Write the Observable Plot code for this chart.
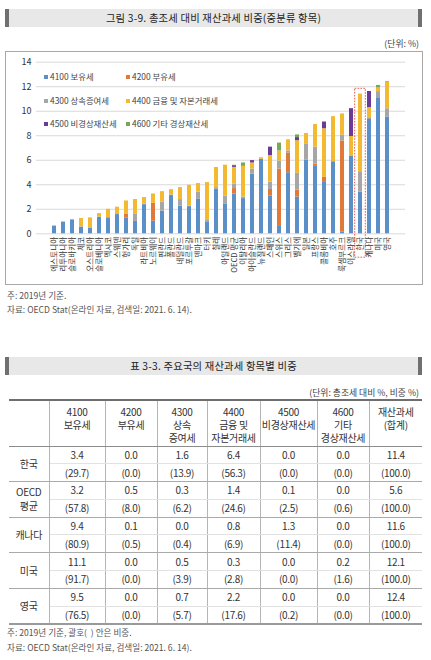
<!DOCTYPE html>
<html>
<head>
<meta charset="utf-8">
<script src="https://cdn.jsdelivr.net/npm/d3@7"></script>
<script src="https://cdn.jsdelivr.net/npm/@observablehq/plot@0.6"></script>
<style>
  body { margin: 0; background: #fff; font-family: "Noto Sans CJK KR", "Noto Sans", sans-serif; color: #333; }
  #page { position: relative; width: 431px; height: 660px; overflow: hidden; }
  .titlebox {
    position: absolute; left: 5px; width: 417px; height: 18px; box-sizing: border-box;
    background: #e8e8e8; border-left: 4px solid #707070; border-right: 4px solid #707070;
    text-align: center; font-size: 10.3px; line-height: 18px; color: #222; letter-spacing: 0.2px;
  }
  .unit { position: absolute; right: 12px; font-size: 8.8px; color: #444; }
  .note { position: absolute; left: 7px; font-size: 8.6px; color: #555; line-height: 14px; }
  #frame { position: absolute; left: 5px; top: 51px; width: 416px; height: 232px; border: 1px solid #a8a8a8; }
  #chart { position: absolute; left: 0; top: 50px; }
  .leg { position: absolute; font-size: 8.4px; color: #444; white-space: nowrap; line-height: 10px; }
  .leg i { display: inline-block; width: 4px; height: 4px; margin-right: 2px; vertical-align: 1px; }
  #tbl { position: absolute; left: 9px; top: 399px; border-collapse: collapse; font-size: 10px; color: #333; table-layout: fixed; letter-spacing: -0.3px; }
  #tbl td, #tbl th { padding: 0; text-align: center; font-weight: normal; white-space: pre-line; overflow: hidden; }
  #tbl tr.head { height: 46px; }
  #tbl tr.sub { height: 17.8px; }
  #tbl th { vertical-align: top; padding-top: 4px; line-height: 13px; border-top: 2px solid #6e6e6e; border-bottom: 1px solid #8c8c8c; }
  #tbl td { line-height: 14px; }
  #tbl .lab { border-right: 1px solid #b5b5b5; line-height: 14px; }
  #tbl .v { border-bottom: 1px solid #e2e2e2; }
  #tbl .p { border-bottom: 1px solid #aaa; }
  #tbl .last { border-bottom: 2px solid #9a9a9a; }
  #tbl .sep { border-left: 1px solid #b5b5b5; }
</style>
</head>
<body>
<div id="page">
  <div class="titlebox" style="top:9px">그림 3-9. 총조세 대비 재산과세 비중(중분류 항목)</div>
  <div class="unit" style="top:37px">(단위: %)</div>
  <div id="frame"></div>
  <div id="chart"></div>
  <div id="legend"></div>
  <div class="note" style="top:288px">주: 2019년 기준.</div>
  <div class="note" style="top:302px">자료: OECD Stat(온라인 자료, 검색일: 2021. 6. 14).</div>

  <div class="titlebox" style="top:357px">표 3-3. 주요국의 재산과세 항목별 비중</div>
  <div class="unit" style="top:386px">(단위: 총조세 대비 %, 비중 %)</div>
  <table id="tbl"></table>
  <div class="note" style="top:625px">주: 2019년 기준, 괄호(&nbsp;&nbsp;) 안은 비중.</div>
  <div class="note" style="top:640px">자료: OECD Stat(온라인 자료, 검색일: 2021. 6. 14).</div>
</div>

<script>
// countries, left to right, as in the figure
const countries = [
  "에스토니아", "리투아니아", "슬로바키아", "체코", "오스트리아", "슬로베니아", "멕시코",
  "스웨덴", "헝가리", "독일", "라트비아", "노르웨이", "핀란드", "폴란드", "네덜란드",
  "포르투갈", "덴마크", "터키", "칠레", "아일랜드", "OECD 평균", "이탈리아", "아이슬란드",
  "뉴질랜드", "스페인", "스위스", "그리스", "벨기에", "일본", "프랑스", "콜롬비아", "호주",
  "룩셈부르크", "이스라엘", "한국", "캐나다", "미국", "영국"
];

// share of total tax (%), per sub-category
const s4100 = [0.63, 0.95, 1.12, 0.54, 0.46, 1.33, 1.30, 1.57, 1.30, 1.05, 2.38, 1.03, 1.85, 3.12, 2.26,
  2.22, 2.81, 0.98, 3.63, 2.40, 3.24, 2.87, 4.87, 6.08, 3.09, 0.60, 4.98, 3.00, 6.02, 5.50, 4.19, 5.88,
  0.13, 6.35, 3.40, 9.38, 11.10, 9.50];
const s4200 = [0, 0, 0, 0, 0, 0, 0, 0, 0.28, 0.03, 0, 1.45, 0, 0, 0,
  0, 0, 0, 0, 0, 0.45, 0, 0, 0, 0.53, 4.68, 1.59, 0.56, 0, 0.19, 0.41, 0,
  7.45, 0, 0, 0.06, 0, 0];
const s4300 = [0, 0.02, 0.05, 0.03, 0.04, 0.05, 0.03, 0, 0.06, 0.55, 0.05, 0, 0.74, 0.05, 0.53,
  0.04, 0.60, 0.10, 0.14, 0.66, 0.35, 0.13, 0.41, 0, 0.60, 0.66, 0.19, 1.37, 1.32, 1.38, 0, 0,
  0.47, 0, 1.60, 0.05, 0.50, 0.70];
const s4400 = [0, 0, 0, 0.68, 0.80, 0.27, 0.67, 0.60, 1.04, 1.17, 0.53, 0.77, 0.85, 0.43, 0.98,
  1.70, 0.69, 3.10, 1.64, 2.54, 1.38, 2.52, 0.50, 0.13, 2.16, 0.82, 0.91, 2.67, 0.84, 1.85, 3.97, 3.68,
  1.73, 1.59, 6.40, 0.80, 0.30, 2.20];
const s4500 = [0, 0, 0, 0, 0, 0, 0, 0, 0, 0, 0, 0, 0, 0, 0,
  0, 0, 0, 0, 0, 0.14, 0.04, 0.19, 0, 0.69, 0, 0, 0.25, 0, 0, 0.55, 0,
  0, 2.27, 0, 1.32, 0, 0.02];
const s4600 = [0, 0, 0, 0, 0, 0, 0, 0, 0, 0, 0, 0, 0, 0, 0,
  0, 0, 0, 0, 0, 0.03, 0.22, 0, 0, 0, 0.64, 0, 0.22, 0, 0, 0, 0,
  0, 0, 0, 0, 0.20, 0];

const seriesNames = ["4100 보유세", "4200 부유세", "4300 상속증여세", "4400 금융 및 자본거래세", "4500 비경상재산세", "4600 기타 경상재산세"];
const seriesColors = ["#5b8fc7", "#e07a3a", "#a6a6a6", "#f3ba31", "#6b3a97", "#77a85a"];
const yTicks = [0, 2, 4, 6, 8, 10, 12, 14];

// table 3-3
const tableHeads = ["4100\n보유세", "4200\n부유세", "4300\n상속\n증여세", "4400\n금융 및\n자본거래세", "4500\n비경상재산세", "4600\n기타\n경상재산세", "재산과세\n(합계)"];
const tableRows = ["한국", "OECD\n평균", "캐나다", "미국", "영국"];
const tableValues = [
  [3.4, 0.0, 1.6, 6.4, 0.0, 0.0, 11.4],
  [3.2, 0.5, 0.3, 1.4, 0.1, 0.0, 5.6],
  [9.4, 0.1, 0.0, 0.8, 1.3, 0.0, 11.6],
  [11.1, 0.0, 0.5, 0.3, 0.0, 0.2, 12.1],
  [9.5, 0.0, 0.7, 2.2, 0.0, 0.0, 12.4]
];
const tableShares = [
  [29.7, 0.0, 13.9, 56.3, 0.0, 0.0, 100.0],
  [57.8, 8.0, 6.2, 24.6, 2.5, 0.6, 100.0],
  [80.9, 0.5, 0.4, 6.9, 11.4, 0.0, 100.0],
  [91.7, 0.0, 3.9, 2.8, 0.0, 1.6, 100.0],
  [76.5, 0.0, 5.7, 17.6, 0.2, 0.0, 100.0]
];
const colWidths = [40, 56, 52, 50, 53, 57, 52, 53];

function drawChart() {
  const seriesValues = [s4100, s4200, s4300, s4400, s4500, s4600];
  let rows = [];
  seriesNames.forEach((name, si) => {
    countries.forEach((c, ci) => {
      rows.push({country: c, series: name, value: seriesValues[si][ci]});
    });
  });

  // dotted box around Korea
  const ki = countries.indexOf("한국");
  const koreaTotal = seriesValues.reduce((a, s) => a + s[ki], 0);

  const chart = Plot.plot({
    width: 431,
    height: 235,
    marginLeft: 36,
    marginRight: 26,
    marginTop: 11.7,
    marginBottom: 51.7,
    style: {fontFamily: "Noto Sans CJK KR, Noto Sans, sans-serif", color: "#333", background: "transparent", overflow: "visible"},
    x: {domain: countries, paddingInner: 0.54, paddingOuter: 0.25, align: 0.5},
    y: {domain: [0, 14]},
    color: {domain: seriesNames, range: seriesColors},
    marks: [
      Plot.gridY(yTicks, {stroke: "#d9d9d9", strokeOpacity: 1}),
      Plot.axisY(yTicks, {tickSize: 0, tickPadding: 5, fontSize: 9, label: null}),
      Plot.barY(rows, {x: "country", y: "value", fill: "series", order: seriesNames}),
      Plot.axisX({tickSize: 0, tickPadding: 3, tickRotate: -90, fontSize: 7.6, label: null}),
      Plot.barY([{country: "한국"}], {
        x: "country", y1: -1.95, y2: koreaTotal + 0.43,
        fill: "none", stroke: "#e5483e", strokeWidth: 0.9, strokeDasharray: "1.6,1.3",
        insetLeft: -3.3, insetRight: -3.3
      })
    ]
  });
  document.getElementById("chart").appendChild(chart);
}

function drawLegend() {
  const legend = document.getElementById("legend");
  seriesNames.forEach((name, i) => {
    const div = document.createElement("div");
    div.className = "leg";
    div.style.left = (i % 2 === 0 ? 44 : 126) + "px";
    div.style.top = (71 + Math.floor(i / 2) * 23.5) + "px";
    div.innerHTML = `<i style="background:${seriesColors[i]}"></i>${name}`;
    legend.appendChild(div);
  });
}

function drawTable() {
  const tbl = document.getElementById("tbl");
  let html = "<colgroup>" + colWidths.map((w) => `<col style="width:${w}px">`).join("") + "</colgroup>";
  html += "<tr class=\"head\"><th></th>" + tableHeads.map((h) => `<th class="sep">${h}</th>`).join("") + "</tr>";
  tableRows.forEach((r, ri) => {
    const lastCls = ri === tableRows.length - 1 ? "last" : "p";
    html += `<tr class="sub"><td rowspan="2" class="lab ${lastCls}">${r}</td>` +
      tableValues[ri].map((v) => `<td class="v sep">${v.toFixed(1)}</td>`).join("") + "</tr>";
    html += "<tr class=\"sub\">" +
      tableShares[ri].map((v) => `<td class="${lastCls} sep">(${v.toFixed(1)})</td>`).join("") + "</tr>";
  });
  tbl.innerHTML = html;
}

drawChart();
drawLegend();
drawTable();
</script>
</body>
</html>
